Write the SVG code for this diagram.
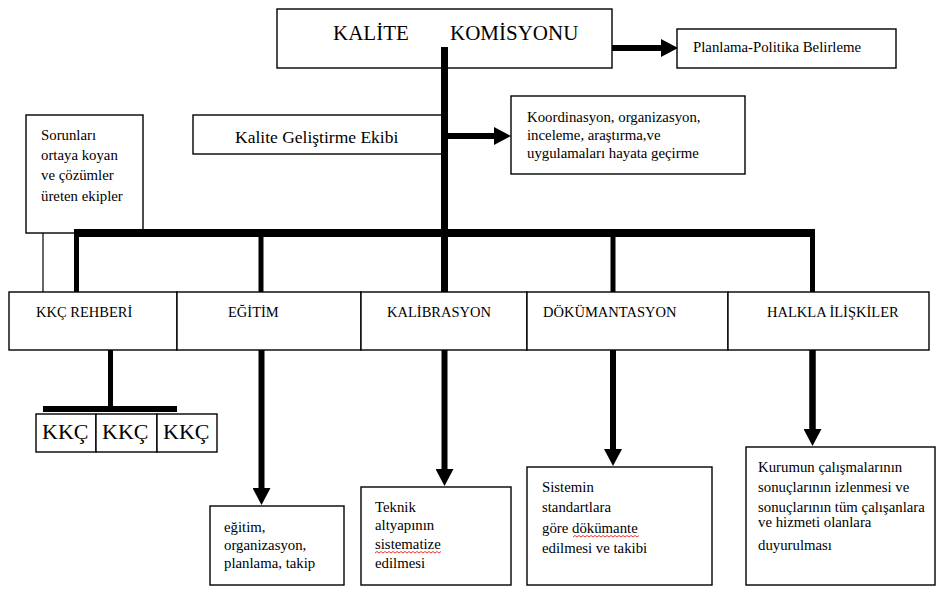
<svg xmlns="http://www.w3.org/2000/svg" width="937" height="589" viewBox="0 0 937 589">
<style>
  .box { fill: #fff; stroke: #000; stroke-width: 1.4; }
  .t { font-family: "Liberation Serif", "DejaVu Serif", serif; fill: #000; }
  .title { font-size: 21px; }
  .lbl { font-size: 14.8px; }
  .cap { font-size: 14.5px; }
  .big { font-size: 17.5px; }
  .kkc { font-size: 22px; }
  .thick { stroke: #000; fill: none; stroke-linecap: butt; }
  .spell { stroke: #e00; stroke-width: 0.8; fill: none; }
</style>
<defs>
  <marker id="ah" viewBox="0 0 17 18" refX="0" refY="9" markerWidth="17" markerHeight="18" markerUnits="userSpaceOnUse" orient="auto">
    <path d="M0,0 L17,9 L0,18 Z" fill="#000"/>
  </marker>
</defs>
<rect width="937" height="589" fill="#fff"/>

<g id="kalite-komisyonu">
  <rect class="box" x="277" y="9" width="335" height="59"/>
  <text class="t title" x="333" y="40">KALİTE</text>
  <text class="t title" x="450" y="40">KOMİSYONU</text>
</g>

<g id="planlama">
  <rect class="box" x="677" y="29" width="219" height="39"/>
  <text class="t lbl" x="693" y="52">Planlama-Politika Belirleme</text>
</g>

<g id="kalite-gelistirme">
  <rect class="box" x="193" y="115" width="250" height="39"/>
  <text class="t big" x="235" y="143">Kalite Geliştirme Ekibi</text>
</g>

<g id="koordinasyon">
  <rect class="box" x="511" y="96" width="234" height="78"/>
  <text class="t lbl" x="527" y="122">Koordinasyon, organizasyon,</text>
  <text class="t lbl" x="527" y="140">inceleme, araştırma,ve</text>
  <text class="t lbl" x="527" y="158">uygulamaları hayata geçirme</text>
</g>

<g id="sorunlar">
  <rect class="box" x="26" y="115" width="117" height="118"/>
  <text class="t lbl" x="41" y="140">Sorunları</text>
  <text class="t lbl" x="41" y="160">ortaya koyan</text>
  <text class="t lbl" x="41" y="180">ve çözümler</text>
  <text class="t lbl" x="41" y="201">üreten ekipler</text>
</g>

<g id="connectors">
  <line class="thick" x1="444.5" y1="47" x2="444.5" y2="292" stroke-width="7"/>
  <line class="thick" x1="74" y1="233" x2="815" y2="233" stroke-width="8"/>
  <line class="thick" x1="76.5" y1="233" x2="76.5" y2="292" stroke-width="5"/>
  <line class="thick" x1="261" y1="233" x2="261" y2="292" stroke-width="5"/>
  <line class="thick" x1="613" y1="233" x2="613" y2="292" stroke-width="5"/>
  <line class="thick" x1="812.5" y1="233" x2="812.5" y2="292" stroke-width="5"/>
  <line x1="43" y1="233" x2="43" y2="292" stroke="#000" stroke-width="1.2"/>
  <line class="thick" x1="612" y1="48" x2="661" y2="48" stroke-width="6" marker-end="url(#ah)"/>
  <line class="thick" x1="448" y1="136" x2="494" y2="136" stroke-width="6" marker-end="url(#ah)"/>
  <line class="thick" x1="110.5" y1="350" x2="110.5" y2="407" stroke-width="5"/>
  <line class="thick" x1="43" y1="409" x2="177" y2="409" stroke-width="6"/>
  <line class="thick" x1="261.5" y1="350" x2="261.5" y2="488" stroke-width="6" marker-end="url(#ah)"/>
  <line class="thick" x1="444.5" y1="350" x2="444.5" y2="469" stroke-width="6" marker-end="url(#ah)"/>
  <line class="thick" x1="613" y1="350" x2="613" y2="449" stroke-width="6" marker-end="url(#ah)"/>
  <line class="thick" x1="812.5" y1="350" x2="812.5" y2="429" stroke-width="6.5" marker-end="url(#ah)"/>
</g>

<g id="kkc-rehberi">
  <rect class="box" x="9" y="292" width="168" height="58"/>
  <text class="t cap" x="36" y="317">KKÇ REHBERİ</text>
</g>
<g id="egitim">
  <rect class="box" x="177" y="292" width="184" height="58"/>
  <text class="t cap" x="228" y="317">EĞİTİM</text>
</g>
<g id="kalibrasyon">
  <rect class="box" x="361" y="292" width="166" height="58"/>
  <text class="t cap" x="387" y="317">KALİBRASYON</text>
</g>
<g id="dokumantasyon">
  <rect class="box" x="527" y="292" width="201" height="58"/>
  <text class="t cap" x="543" y="317">DÖKÜMANTASYON</text>
</g>
<g id="halkla-iliskiler">
  <rect class="box" x="728" y="292" width="201" height="58"/>
  <text class="t cap" x="767" y="317">HALKLA İLİŞKİLER</text>
</g>

<g id="kkc-group">
  <rect class="box" x="36" y="414" width="60" height="38"/>
  <rect class="box" x="96" y="414" width="61" height="38"/>
  <rect class="box" x="157" y="414" width="60" height="38"/>
  <text class="t kkc" x="42" y="439">KKÇ</text>
  <text class="t kkc" x="102" y="439">KKÇ</text>
  <text class="t kkc" x="163" y="439">KKÇ</text>
</g>

<g id="egitim-detay">
  <rect class="box" x="210" y="506" width="134" height="79"/>
  <text class="t lbl" x="224" y="532">eğitim,</text>
  <text class="t lbl" x="224" y="550">organizasyon,</text>
  <text class="t lbl" x="224" y="568">planlama, takip</text>
</g>

<g id="teknik">
  <rect class="box" x="361" y="487" width="150" height="98"/>
  <text class="t lbl" x="375" y="512">Teknik</text>
  <text class="t lbl" x="375" y="530">altyapının</text>
  <text class="t lbl" x="375" y="549">sistematize</text>
  <text class="t lbl" x="375" y="568">edilmesi</text>
  <path class="spell" d="M375,553 l2,-1.5 l2,1.5 l2,-1.5 l2,1.5 l2,-1.5 l2,1.5 l2,-1.5 l2,1.5 l2,-1.5 l2,1.5 l2,-1.5 l2,1.5 l2,-1.5 l2,1.5 l2,-1.5 l2,1.5 l2,-1.5 l2,1.5 l2,-1.5 l2,1.5 l2,-1.5 l2,1.5 l2,-1.5 l2,1.5 l2,-1.5 l2,1.5 l2,-1.5 l2,1.5 l2,-1.5 l2,1.5 l2,-1.5 l2,1.5 l2,-1.5"/>
</g>

<g id="sistemin">
  <rect class="box" x="527" y="467" width="185" height="118"/>
  <text class="t lbl" x="542" y="492">Sistemin</text>
  <text class="t lbl" x="542" y="512">standartlara</text>
  <text class="t lbl" x="542" y="533">göre dökümante</text>
  <text class="t lbl" x="542" y="553">edilmesi ve takibi</text>
  <path class="spell" d="M573,537 l2,-1.5 l2,1.5 l2,-1.5 l2,1.5 l2,-1.5 l2,1.5 l2,-1.5 l2,1.5 l2,-1.5 l2,1.5 l2,-1.5 l2,1.5 l2,-1.5 l2,1.5 l2,-1.5 l2,1.5 l2,-1.5 l2,1.5 l2,-1.5 l2,1.5 l2,-1.5 l2,1.5 l2,-1.5 l2,1.5 l2,-1.5 l2,1.5 l2,-1.5 l2,1.5 l2,-1.5 l2,1.5 l2,-1.5 l2,1.5 l2,-1.5"/>
</g>

<g id="kurumun">
  <rect class="box" x="746" y="447" width="189" height="138"/>
  <text class="t lbl" x="758" y="472">Kurumun çalışmalarının</text>
  <text class="t lbl" x="758" y="492">sonuçlarının izlenmesi ve</text>
  <text class="t lbl" x="758" y="512">sonuçlarının tüm çalışanlara</text>
  <text class="t lbl" x="758" y="527">ve hizmeti olanlara</text>
  <text class="t lbl" x="758" y="550">duyurulması</text>
</g>
</svg>
